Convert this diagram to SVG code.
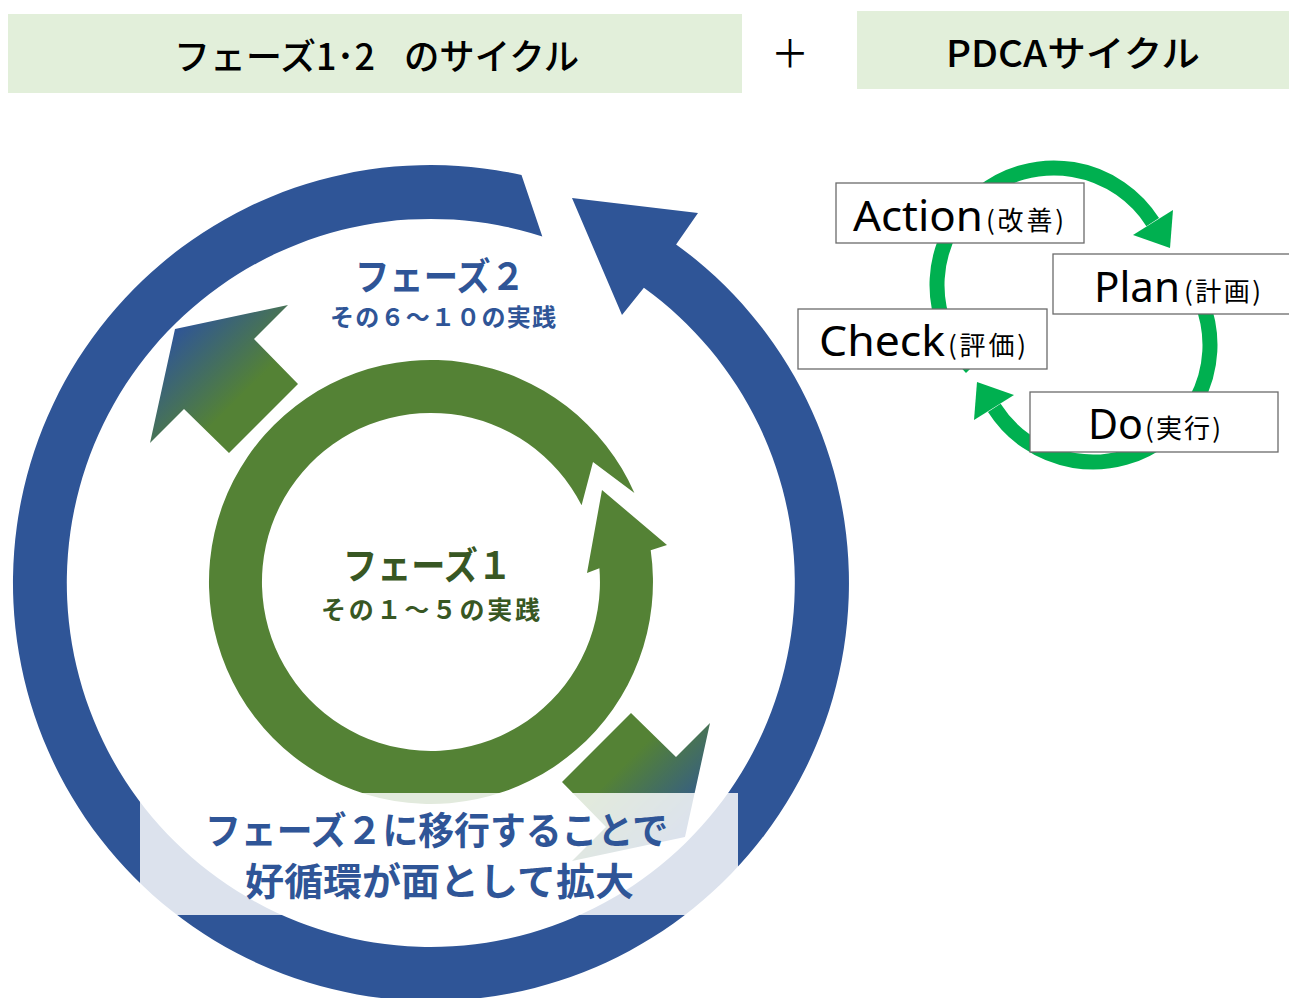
<svg xmlns="http://www.w3.org/2000/svg" width="1289" height="998" viewBox="0 0 1289 998">
<defs>
<style>
.jp{font-family:"Noto Sans CJK JP","Noto Sans",sans-serif}
.lat{font-family:"Noto Sans","Noto Sans CJK JP",sans-serif}
.banner{fill:#E2EFDA}
.bt{font-size:36px;fill:#000;font-weight:500}
.box{fill:#fff;stroke:#6b6b6b;stroke-width:1.3}
.big{font-size:42px;fill:#000}
.small{font-size:26px;fill:#000}
.pd{fill:none;stroke:#00B050;stroke-width:15}
.head{fill:#00B050}
.blue{fill:#2F5597}
.green{fill:#548235}
.t2{fill:#2F5597;font-weight:700}
.t1{fill:#385723;font-weight:700}
</style>
<linearGradient id="g1" gradientUnits="userSpaceOnUse" x1="175" y1="329" x2="264" y2="418">
<stop offset="0" stop-color="#2F5597"/><stop offset="0.75" stop-color="#548235"/><stop offset="1" stop-color="#548235"/>
</linearGradient>
<linearGradient id="g2" gradientUnits="userSpaceOnUse" x1="685" y1="837" x2="596" y2="748">
<stop offset="0" stop-color="#2F5597"/><stop offset="0.75" stop-color="#548235"/><stop offset="1" stop-color="#548235"/>
</linearGradient>
</defs>
<rect width="1289" height="998" fill="#fff"/>

<g id="banner-phase">
<rect class="banner" x="8" y="14" width="734" height="79"/>
<text class="jp bt" x="174" y="70" textLength="201" lengthAdjust="spacingAndGlyphs">フェーズ1･2</text>
<text class="jp bt" x="404" y="70" textLength="175" lengthAdjust="spacingAndGlyphs">のサイクル</text>
</g>
<g id="plus">
<text class="jp" x="790" y="67" font-size="38" text-anchor="middle" fill="#000">＋</text>
</g>
<g id="banner-pdca">
<rect class="banner" x="857" y="11" width="432" height="78"/>
<text class="jp bt" x="946" y="67" textLength="254" lengthAdjust="spacingAndGlyphs">PDCAサイクル</text>
</g>

<g id="blue-cycle">
<path class="blue" d="M 521.5,174.9 A 418 418 0 1 0 676.1,244.4 L 698,213 L 572,198 L 622,315 L 643.9,287.8 A 364 364 0 1 1 542.3,236.4 Z"/>
</g>
<g id="green-cycle">
<path class="green" d="M 634.4,493.1 A 222 222 0 1 0 650.7,550.3 L 667,545 L 602,490 L 587,573 L 599.4,568.2 A 169 169 0 1 1 581.6,505.3 L 593,462 Z"/>
</g>
<g id="arrow-expand-upper">
<polygon fill="url(#g1)" points="175,329 288,305 254,339 298,384 229,453 184,409 150,443"/>
</g>
<g id="arrow-expand-lower">
<polygon fill="url(#g2)" points="685,837 572,861 606,827 562,782 631,713 676,757 710,723"/>
</g>

<g id="label-phase2">
<text class="jp t2" x="355" y="290" font-size="38" textLength="170" lengthAdjust="spacingAndGlyphs">フェーズ２</text>
<text class="jp t2" x="330" y="326" font-size="24" textLength="226" lengthAdjust="spacing">その６～１０の実践</text>
</g>
<g id="label-phase1">
<text class="jp t1" x="343" y="579" font-size="38" textLength="169" lengthAdjust="spacingAndGlyphs">フェーズ１</text>
<text class="jp t1" x="321" y="619" font-size="25" textLength="219" lengthAdjust="spacing">その１～５の実践</text>
</g>

<g id="caption">
<rect x="140" y="793" width="598" height="122" fill="#fff" fill-opacity="0.83"/>
<text class="jp t2" x="205" y="844" font-size="38" textLength="463" lengthAdjust="spacingAndGlyphs">フェーズ２に移行することで</text>
<text class="jp t2" x="245" y="895" font-size="38" textLength="389" lengthAdjust="spacingAndGlyphs">好循環が面として拡大</text>
</g>

<g id="connectors">
<path class="pd" d="M 971.3,367.7 A 117 117 0 1 1 1152.7,222.1"/>
<polygon class="head" points="1133,235 1173,210 1170,248"/>
<path class="pd" d="M 1175.7,262.3 A 117 117 0 1 1 994.3,407.9"/>
<polygon class="head" points="1014,395 974,420 977,382"/>
</g>

<g id="pdca-action">
<rect class="box" x="836" y="183" width="248" height="60"/>
<text class="lat big" x="853" y="231" textLength="130" lengthAdjust="spacingAndGlyphs">Action</text>
<text class="jp small" x="986" y="230" textLength="78" lengthAdjust="spacing">(改善)</text>
</g>
<g id="pdca-plan">
<rect class="box" x="1053" y="254" width="240" height="60"/>
<text class="lat big" x="1094" y="302" textLength="86" lengthAdjust="spacingAndGlyphs">Plan</text>
<text class="jp small" x="1184" y="301" textLength="77" lengthAdjust="spacing">(計画)</text>
</g>
<g id="pdca-check">
<rect class="box" x="798" y="309" width="249" height="60"/>
<text class="lat big" x="819" y="356" textLength="126" lengthAdjust="spacingAndGlyphs">Check</text>
<text class="jp small" x="948" y="355" textLength="78" lengthAdjust="spacing">(評価)</text>
</g>
<g id="pdca-do">
<rect class="box" x="1030" y="392" width="248" height="60"/>
<text class="lat big" x="1088" y="439" textLength="55" lengthAdjust="spacingAndGlyphs">Do</text>
<text class="jp small" x="1145" y="438" textLength="76" lengthAdjust="spacing">(実行)</text>
</g>
</svg>
